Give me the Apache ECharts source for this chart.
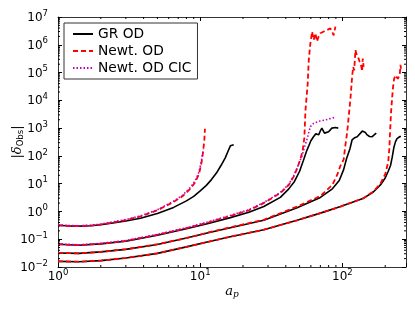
<!DOCTYPE html>
<html><head><meta charset="utf-8">
<script src="https://cdn.jsdelivr.net/npm/echarts@6/dist/echarts.min.js"></script>
<style>html,body{margin:0;padding:0;background:#fff}#c{width:415px;height:312px}</style>
</head><body><div id="c"></div><script>
// ---- data ----
const xTickLabels = ['10^0', '10^1', '10^2'];
const yTickLabels = ['10^-2','10^-1','10^0','10^1','10^2','10^3','10^4','10^5','10^6','10^7'];
const legendNames = ['GR OD', 'Newt. OD', 'Newt. OD CIC'];

const gr1X = [1, 1.2, 1.4, 1.7, 2, 2.5, 3, 3.8, 5, 6.5, 8, 9, 10, 11, 12, 13, 14, 15, 15.8, 16.3, 16.6, 17.2];
const gr1Y = [0.32, 0.30, 0.295, 0.305, 0.33, 0.39, 0.45, 0.57, 0.85, 1.4, 2.4, 3.5, 5.5, 8.5, 14, 24, 45, 85, 160, 230, 250, 250];
const nw1X = [1, 1.2, 1.4, 1.7, 2, 2.5, 3, 3.8, 5, 6.5, 7.5, 8.5, 9.2, 9.8, 10.2, 10.5, 10.7, 10.8];
const nw1Y = [0.32, 0.30, 0.297, 0.31, 0.34, 0.41, 0.49, 0.66, 1.1, 2.2, 3.5, 6.5, 11, 22, 55, 150, 400, 950];
const cic1X = [1, 1.2, 1.4, 1.7, 2, 2.5, 3, 3.8, 5, 6.5, 7.5, 8.5, 9.2, 9.8, 10.2, 10.5];
const cic1Y = [0.33, 0.31, 0.305, 0.32, 0.35, 0.43, 0.51, 0.69, 1.15, 2.35, 3.8, 7.2, 12.5, 26, 65, 170];

const gr2X = [1, 1.4, 2, 3, 5, 8, 11.4, 16.3, 22, 28, 36.6, 42, 46, 50, 53, 56, 58, 60, 62.8, 65, 66.3, 68.2, 70, 71.7, 73, 74.8, 77, 80, 84.3, 87, 89.3, 93.5];
const gr2Y = [0.066, 0.061, 0.068, 0.085, 0.14, 0.24, 0.37, 0.6, 0.93, 1.5, 3.2, 6.5, 12, 28, 65, 150, 230, 350, 500, 620, 660, 580, 800, 1000, 850, 660, 680, 740, 1000, 1050, 1050, 1000];
const nw2X = [1, 1.4, 2, 3, 5, 8, 11.4, 16.3, 22, 28, 36.6, 42, 45.4, 48, 50.5, 52.5, 54, 55, 57, 58, 59.5, 61.2, 62.8, 64.5, 66.3, 68, 70, 74, 78, 82.3, 84.5, 86.8, 89.3];
const nw2Y = [0.066, 0.061, 0.069, 0.087, 0.145, 0.25, 0.40, 0.69, 1.1, 2.0, 4.6, 9, 18, 35, 73, 150, 450, 4500, 40000, 280000, 1.1e6, 3e6, 1.5e6, 2.6e6, 1.3e6, 2.0e6, 2.6e6, 3e6, 3.4e6, 3.9e6, 3.0e6, 2.2e6, 4.5e6];
const cic2X = [1, 1.4, 2, 3, 5, 8, 11.4, 16.3, 22, 28, 36.6, 42, 45.4, 48, 50.5, 52, 54, 56.2, 59.5, 62.8, 68, 75.6, 82, 89.3];
const cic2Y = [0.068, 0.063, 0.071, 0.09, 0.15, 0.26, 0.42, 0.72, 1.15, 2.1, 4.8, 9.5, 19, 37, 70, 100, 200, 380, 1130, 1500, 1750, 1950, 2200, 2450];

const gr3X = [1, 1.4, 2, 3, 5, 8, 11.4, 16.3, 28, 48, 70, 85, 95, 102, 107, 113, 117, 122, 127, 131, 134, 138, 141, 145, 148.5, 155, 162, 168, 173];
const gr3Y = [0.032, 0.031, 0.035, 0.043, 0.065, 0.11, 0.17, 0.26, 0.48, 1.35, 3.2, 6.5, 13, 32, 80, 180, 380, 450, 490, 560, 660, 780, 870, 700, 580, 500, 490, 580, 660];
const nw3X = [1, 1.4, 2, 3, 5, 8, 11.4, 16.3, 28, 48, 70, 85, 92, 97, 102, 105, 108, 111, 114, 117, 119, 121, 123.5, 125, 127, 130, 132, 134, 136, 137.6, 139, 141];
const nw3Y = [0.032, 0.031, 0.035, 0.044, 0.066, 0.11, 0.175, 0.27, 0.5, 1.5, 3.6, 9, 21, 45, 73, 250, 700, 3000, 12000, 70000, 160000, 120000, 650000, 500000, 480000, 320000, 250000, 210000, 160000, 110000, 320000, 160000];

const gr4X = [1, 1.4, 2, 3, 5, 8, 11.4, 16.3, 28, 48, 70, 97, 141, 165, 185, 200, 210, 218, 224, 230, 236, 242, 248, 254, 258];
const gr4Y = [0.016, 0.0155, 0.017, 0.021, 0.031, 0.053, 0.081, 0.123, 0.22, 0.48, 0.87, 1.5, 3.0, 5.0, 9, 16, 28, 45, 90, 200, 320, 420, 480, 500, 500];
const nw4X = [1, 1.4, 2, 3, 5, 8, 11.4, 16.3, 28, 48, 70, 97, 141, 165, 185, 200, 207, 210, 214, 217, 220, 223, 227, 231, 236, 241, 245, 249, 253, 256, 259];
const nw4Y = [0.016, 0.0155, 0.017, 0.021, 0.031, 0.053, 0.081, 0.123, 0.22, 0.48, 0.87, 1.5, 3.0, 5.2, 10, 22, 45, 60, 200, 1000, 4000, 10000, 30000, 60000, 80000, 85000, 60000, 55000, 80000, 190000, 120000];

// ---- chart ----
const FONT = 'DejaVu Sans';
const pairs = (xs, ys) => xs.map((x, i) => [x, ys[i]]);
function line(name, xs, ys, color, type, width, z) {
  return { type: 'line', name, data: pairs(xs, ys), symbol: 'none', showSymbol: false,
    lineStyle: { color, width, type, cap: 'butt' }, itemStyle: { color }, z, animation: false, silent: true };
}
const RED = '#ff0000', MAG = '#bf00bf', BLK = '#000000';
const DASH = [5, 3], DOT = [1.5, 2];
const series = [
  line(legendNames[0], gr1X, gr1Y, BLK, 'solid', 1.6, 2),
  line(legendNames[0], gr2X, gr2Y, BLK, 'solid', 1.6, 2),
  line(legendNames[0], gr3X, gr3Y, BLK, 'solid', 1.6, 2),
  line(legendNames[0], gr4X, gr4Y, BLK, 'solid', 1.6, 2),
  line(legendNames[1], nw1X, nw1Y, RED, DASH, 1.8, 3),
  line(legendNames[1], nw2X, nw2Y, RED, DASH, 1.8, 3),
  line(legendNames[1], nw3X, nw3Y, RED, DASH, 1.8, 3),
  line(legendNames[1], nw4X, nw4Y, RED, DASH, 1.8, 3),
  line(legendNames[2], cic1X, cic1Y, MAG, DOT, 1.6, 4),
  line(legendNames[2], cic2X, cic2Y, MAG, DOT, 1.6, 4),
];

// minor ticks (axis decoration, 2..9 x 10^k)
const xMinor = [], yMinor = [];
for (let e = 0; e <= 2; e++) for (let k = 2; k <= 9; k++) { const v = k * Math.pow(10, e); if (v < 280) xMinor.push(v); }
for (let e = -2; e <= 6; e++) for (let k = 2; k <= 9; k++) yMinor.push(k * Math.pow(10, e));
const TICKC = '#000', MINL = 2;
series.push({ type: 'custom', coordinateSystem: 'cartesian2d', silent: true, z: 6, animation: false,
  data: xMinor.map(v => [v, 1]),
  renderItem(params, api) {
    const p = api.coord([api.value(0), 1]); const cs = params.coordSys;
    const b = cs.y + cs.height, t = cs.y;
    return { type: 'group', children: [
      { type: 'line', shape: { x1: p[0], y1: b, x2: p[0], y2: b - MINL }, style: { stroke: TICKC, lineWidth: 1 } },
      { type: 'line', shape: { x1: p[0], y1: t, x2: p[0], y2: t + MINL }, style: { stroke: TICKC, lineWidth: 1 } } ] };
  } });
series.push({ type: 'custom', coordinateSystem: 'cartesian2d', silent: true, z: 6, animation: false,
  data: yMinor.map(v => [1, v]),
  renderItem(params, api) {
    const p = api.coord([1, api.value(1)]); const cs = params.coordSys;
    const l = cs.x, r = cs.x + cs.width;
    return { type: 'group', children: [
      { type: 'line', shape: { x1: l, y1: p[1], x2: l + MINL, y2: p[1] }, style: { stroke: TICKC, lineWidth: 1 } },
      { type: 'line', shape: { x1: r, y1: p[1], x2: r - MINL, y2: p[1] }, style: { stroke: TICKC, lineWidth: 1 } } ] };
  } });

const supRich = {
  b: { fontFamily: FONT, fontSize: 12, color: '#000', verticalAlign: 'bottom', lineHeight: 14 },
  s: { fontFamily: FONT, fontSize: 8.5, color: '#000', verticalAlign: 'bottom', lineHeight: 9, padding: [0, 0, 6, 0] }
};
const allLabels = xTickLabels.concat(yTickLabels);
function fmtPow(v) {
  const e = Math.log10(v);
  if (Math.abs(e - Math.round(e)) > 1e-6) return '';
  const lbl = allLabels.find(s => +s.split('^')[1] === Math.round(e));
  if (!lbl) return '';
  const exp = lbl.split('^')[1].replace('-', '\u2212');
  return '{b|10}{s|' + exp + '}';
}
const axisLine = { show: true, lineStyle: { color: '#333', width: 1 } };
const axisTick = { show: true, inside: true, length: 4, lineStyle: { color: TICKC, width: 1 } };

const option = {
  animation: false,
  backgroundColor: '#fff',
  grid: { left: 58, right: 9, top: 17, bottom: 45, containLabel: false, outerBoundsMode: 'none' },
  legend: {
    data: legendNames, orient: 'vertical', left: 64, top: 23,
    padding: [4, 6, 4, 8], itemGap: 3, itemWidth: 20, itemHeight: 10,
    textStyle: { fontFamily: FONT, fontSize: 13.8, color: '#000' },
    itemStyle: { opacity: 0 },
    borderColor: '#333', borderWidth: 1, borderRadius: 0, backgroundColor: '#fff', selectedMode: false
  },
  xAxis: [
    { type: 'log', logBase: 10, min: 1, max: 280, position: 'bottom',
      axisLine, axisTick, splitLine: { show: false }, minorTick: { show: false },
      axisLabel: { formatter: fmtPow, rich: supRich, margin: 2, hideOverlap: false },
      name: '{i|a}{sub|p}', nameLocation: 'middle', nameGap: 18, nameMoveOverlap: false,
      nameTextStyle: { rich: {
        i: { fontFamily: 'DejaVu Serif', fontStyle: 'italic', fontSize: 13, color: '#000', verticalAlign: 'top', lineHeight: 14 },
        sub: { fontFamily: 'DejaVu Serif', fontStyle: 'italic', fontSize: 9, color: '#000', verticalAlign: 'bottom', lineHeight: 10, padding: [4, 0, 0, 0] } } } },
    { type: 'log', logBase: 10, min: 1, max: 280, position: 'top',
      axisLine, axisTick, splitLine: { show: false }, axisLabel: { show: false } }
  ],
  yAxis: [
    { type: 'log', logBase: 10, min: 0.01, max: 1e7, position: 'left',
      axisLine, axisTick, splitLine: { show: false },
      axisLabel: { formatter: fmtPow, rich: supRich, margin: 10, hideOverlap: false },
      name: '{n|\u007C\u03B4}{sub|Obs}{n|\u007C}', nameLocation: 'middle', nameGap: 33, nameRotate: 90, nameMoveOverlap: false,
      nameTextStyle: { rich: {
        n: { fontFamily: 'DejaVu Serif', fontStyle: 'italic', fontSize: 13, color: '#000', verticalAlign: 'top', lineHeight: 14 },
        sub: { fontFamily: 'DejaVu Sans', fontSize: 8.5, color: '#000', verticalAlign: 'bottom', lineHeight: 9, padding: [5, 0, 0, 0] } } } },
    { type: 'log', logBase: 10, min: 0.01, max: 1e7, position: 'right',
      axisLine, axisTick, splitLine: { show: false }, axisLabel: { show: false } }
  ],
  series
};
const chart = echarts.init(document.getElementById('c'), null, { renderer: 'canvas' });
chart.setOption(option);
</script></body></html>
